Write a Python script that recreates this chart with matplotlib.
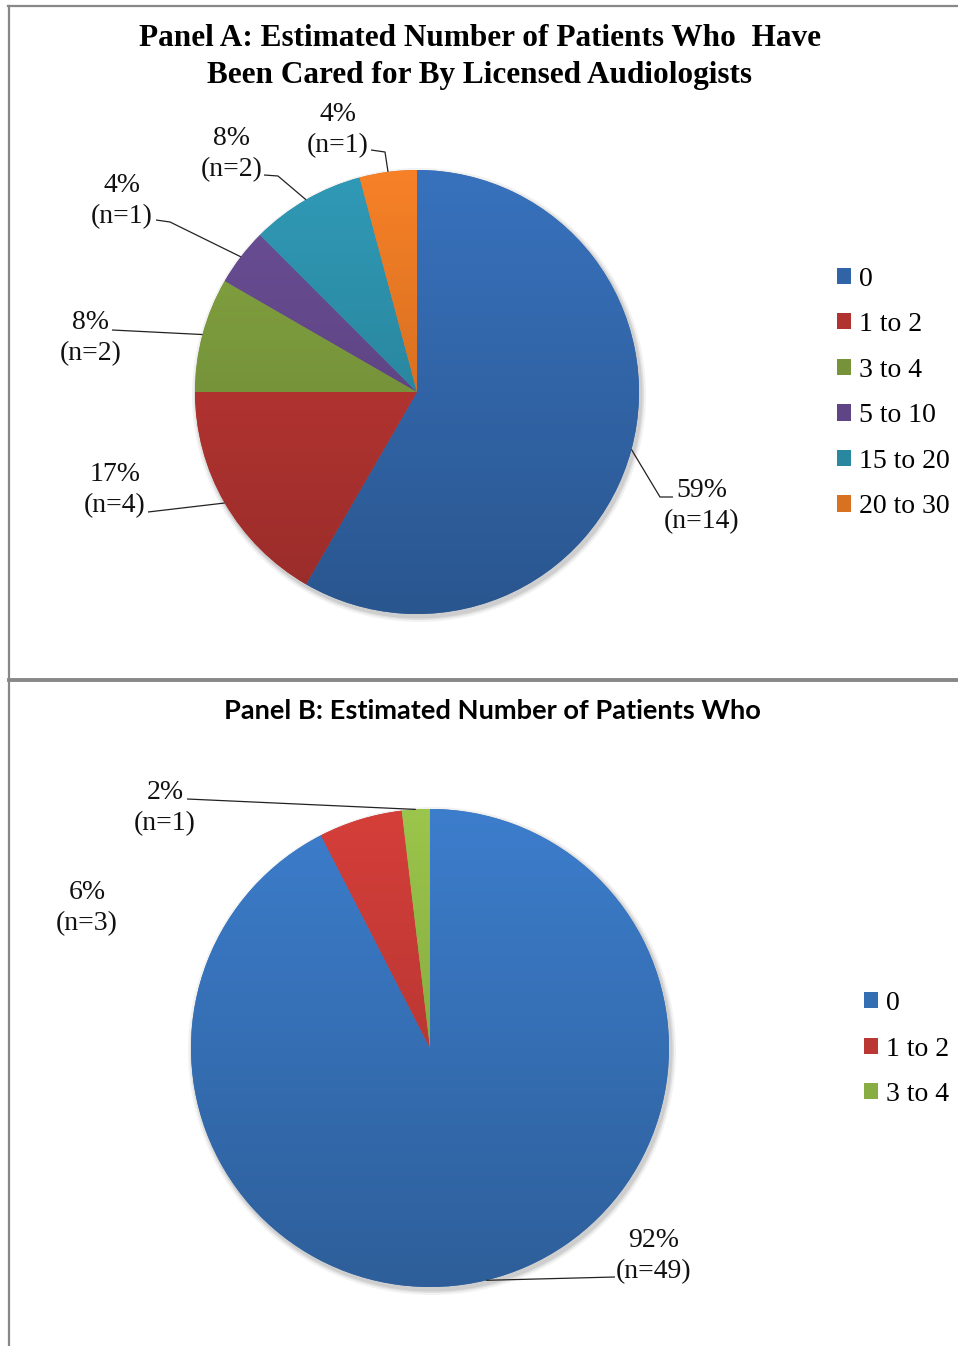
import numpy as np
import matplotlib
matplotlib.use('Agg')
import matplotlib.pyplot as plt
from matplotlib.patches import Patch, Circle
from matplotlib.colors import to_rgb

plt.rcParams['font.family'] = ['Liberation Serif', 'DejaVu Serif']

W, H = 958, 1346

# Panel A: patients cared for by licensed audiologists
cats_a = ['0', '1 to 2', '3 to 4', '5 to 10', '15 to 20', '20 to 30']
n_a = [14, 4, 2, 1, 2, 1]
pct_a = ['59%', '17%', '8%', '4%', '8%', '4%']
colors_a = ['#3164a6', '#b03330', '#76933a', '#5f4585', '#2a87a0', '#d97122']

# Panel B
cats_b = ['0', '1 to 2', '3 to 4']
n_b = [49, 3, 1]
pct_b = ['92%', '6%', '2%']
colors_b = ['#356eb3', '#bb3733', '#88ad42']

serif = {'family': ['Liberation Serif', 'DejaVu Serif'], 'size': 20}


def Y(y):
    # pixel row -> data y (axes spans whole figure, 1 unit = 1 px)
    return H - y


def draw_pie(ax, counts, colors, cx, cy, r):
    cy = Y(cy)
    # soft shadow under the pie
    for k, a in [(5, 0.05), (3, 0.07), (1.5, 0.08)]:
        ax.add_patch(Circle((cx + 2, cy - 3), r + k, color='k', alpha=a, lw=0, zorder=1))
    wedges, _ = ax.pie(counts, colors=colors, startangle=90, counterclock=False,
                       center=(cx, cy), radius=r, frame=False,
                       wedgeprops=dict(lw=0, zorder=2))
    # vertical shading, lighter at top, darker at bottom
    t = np.linspace(0, 1, 256)[:, None, None]
    shade = 1.14 - 0.28 * t
    for w, c in zip(wedges, colors):
        img = np.clip(np.array(to_rgb(c))[None, None, :] * shade, 0, 1)
        im = ax.imshow(img, extent=(cx - r, cx + r, cy - r, cy + r), origin='upper',
                       aspect='auto', interpolation='bilinear', zorder=3)
        im.set_clip_path(w)
    return wedges


def leader(ax, w, cx, cy, r, pts):
    ang = np.deg2rad((w.theta1 + w.theta2) / 2)
    xs = [cx + r * np.cos(ang)] + [p[0] for p in pts]
    ys = [Y(cy) + r * np.sin(ang)] + [Y(p[1]) for p in pts]
    ax.plot(xs, ys, color='#222222', lw=0.9, zorder=4, solid_capstyle='butt')


def legend(ax, colors, cats, x, y):
    return ax.legend(handles=[Patch(facecolor=c, edgecolor='none') for c in colors], labels=cats,
                     loc='center left', bbox_to_anchor=(x / W, Y(y) / H), bbox_transform=fig.transFigure,
                     frameon=False, prop=serif, handlelength=0.52, handleheight=0.52,
                     handletextpad=0.28, labelspacing=0.74, borderpad=0, borderaxespad=0)


fig = plt.figure(figsize=(W / 100, H / 100), dpi=100)
ax = fig.add_axes([0, 0, 1, 1])

# ---- Panel A ----
cxa, cya, ra = 417, 392, 222
wa = draw_pie(ax, n_a, colors_a, cxa, cya, ra)
lab_a = [(702, 506), (115, 490), (91, 338), (122, 201), (232, 154), (338, 130)]
elb_a = [[(660, 497), (673, 497)], [(148, 512)], [(112, 330)],
         [(170, 222), (156, 220)], [(278, 176), (264, 175)], [(385, 152), (371, 150)]]
for w, p, n, xy, el in zip(wa, pct_a, n_a, lab_a, elb_a):
    leader(ax, w, cxa, cya, ra, el)
    ax.text(xy[0], Y(xy[1]), f'{p}\n(n={n})', ha='center', va='center',
            fontdict=serif, linespacing=1.32, color='#111111')

ax.text(480, Y(57), 'Panel A: Estimated Number of Patients Who  Have\nBeen Cared for By Licensed Audiologists',
        ha='center', va='center', fontsize=22.5, fontweight='bold', linespacing=1.32)

ax.add_artist(legend(ax, colors_a, cats_a, 837, 393))

# ---- Panel B ----
cxb, cyb, rb = 430, 1048, 239
wb = draw_pie(ax, n_b, colors_b, cxb, cyb, rb)
lab_b = [(654, 1256), (87, 908), (165, 808)]
elb_b = [[(615, 1277)], None, [(187, 799)]]
for w, p, n, xy, el in zip(wb, pct_b, n_b, lab_b, elb_b):
    if el:
        leader(ax, w, cxb, cyb, rb, el)
    ax.text(xy[0], Y(xy[1]), f'{p}\n(n={n})', ha='center', va='center',
            fontdict=serif, linespacing=1.32, color='#111111')

ax.text(492, Y(711), 'Panel B: Estimated Number of Patients Who', ha='center', va='center',
        fontsize=19.6, fontweight='bold', family=['Lato', 'DejaVu Sans'])

legend(ax, colors_b, cats_b, 864, 1049)

# panel borders
ax.plot([8, 958], [Y(6), Y(6)], color='#888888', lw=1.6, clip_on=False)
ax.plot([9, 9], [Y(6), Y(1346)], color='#888888', lw=1.6, clip_on=False)
ax.plot([9, 958], [Y(680), Y(680)], color='#888888', lw=2.8, clip_on=False)

ax.set_xlim(0, W)
ax.set_ylim(0, H)
ax.set_aspect('auto')
ax.axis('off')

fig.savefig('out.png', dpi=100, facecolor='white')
